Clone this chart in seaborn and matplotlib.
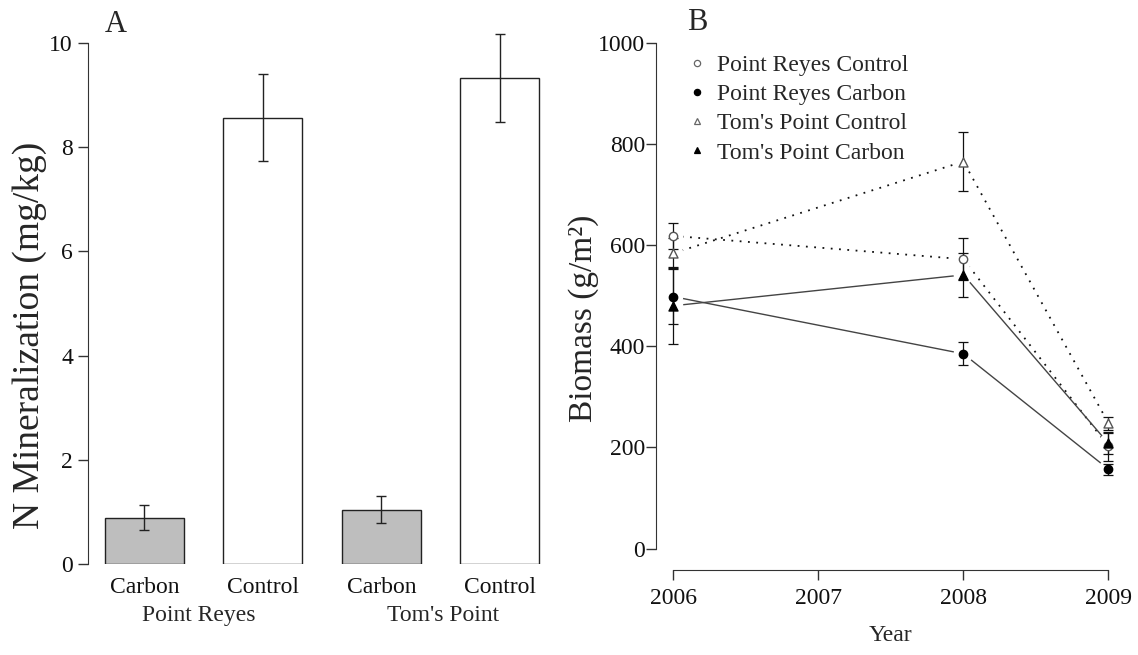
import matplotlib
matplotlib.use("Agg")
import matplotlib.pyplot as plt
from matplotlib.lines import Line2D
from matplotlib.transforms import blended_transform_factory
import pandas as pd
import seaborn as sns

# Panel A: net N mineralization by site and treatment
sites = ["Point Reyes", "Point Reyes", "Tom's Point", "Tom's Point"]
treatments = ["Carbon", "Control", "Carbon", "Control"]
n_min = [0.89, 8.56, 1.05, 9.32]
n_min_se = [0.24, 0.83, 0.25, 0.85]

# Panel B: aboveground biomass through time
years = [2006, 2008, 2009]
pr_control = [618, 572, 202]
pr_control_se = [26, 41, 28]
pr_carbon = [498, 385, 157]
pr_carbon_se = [55, 23, 11]
tp_control = [584, 765, 248]
tp_control_se = [29, 58, 13]
tp_carbon = [480, 541, 208]
tp_carbon_se = [76, 43, 21]

sns.set_style("ticks")
plt.rcParams["font.family"] = ["Liberation Serif", "DejaVu Serif"]
plt.rcParams["axes.edgecolor"] = "#333333"
plt.rcParams["xtick.color"] = "#333333"
plt.rcParams["ytick.color"] = "#333333"
plt.rcParams["xtick.labelcolor"] = "#111111"
plt.rcParams["ytick.labelcolor"] = "#111111"

TICK_FS = 17
fig = plt.figure(figsize=(11.38, 6.55), dpi=100)

# ---------------- Panel A ----------------
axA = fig.add_axes([0.0770, 0.1385, 0.4122, 0.8282])
bars = pd.DataFrame({
    "bar": [f"{s} {t}" for s, t in zip(sites, treatments)],
    "treatment": treatments,
    "value": n_min,
    "se": n_min_se,
})
fill = {"Carbon": "#bebebe", "Control": "#ffffff"}
palette = {b: fill[t] for b, t in zip(bars["bar"], bars["treatment"])}
sns.barplot(data=bars, x="bar", y="value", hue="bar", palette=palette,
            width=0.667, edgecolor="#222222", linewidth=1.0, errorbar=None,
            legend=False, ax=axA, saturation=1)
axA.errorbar(range(len(n_min)), n_min, yerr=n_min_se, fmt="none",
             ecolor="#222222", elinewidth=1.0, capsize=3.5, capthick=1.0)
axA.set_xlim(-0.48, 3.48)
axA.set_ylim(0, 10.4)
axA.set_yticks([0, 2, 4, 6, 8, 10])
axA.set_xticks(range(len(treatments)))
axA.set_xticklabels(treatments)
axA.tick_params(axis="x", length=0, pad=9, labelsize=TICK_FS)
axA.tick_params(axis="y", length=7, width=1, pad=3.5, labelsize=TICK_FS)
for side in ("top", "right", "bottom"):
    axA.spines[side].set_visible(False)
axA.spines["left"].set_bounds(0, 10)
axA.set_xlabel("")
axA.set_ylabel("N Mineralization (mg/kg)", fontsize=27)
axA.yaxis.set_label_coords(-0.1228, 0.4227)
axA.yaxis.label.set_va("center")

trans = blended_transform_factory(axA.transData, axA.transAxes)
for site, xc in (("Point Reyes", 0.46), ("Tom's Point", 2.52)):
    axA.text(xc, -0.0935, site, transform=trans, ha="center", va="center",
             fontsize=TICK_FS)

# ---------------- Panel B ----------------
axB = fig.add_axes([0.5765, 0.1292, 0.4128, 0.8366])
series = [
    ("Point Reyes Control", pr_control, pr_control_se, "o", True, False),
    ("Point Reyes Carbon", pr_carbon, pr_carbon_se, "o", False, True),
    ("Tom's Point Control", tp_control, tp_control_se, "^", True, False),
    ("Tom's Point Carbon", tp_carbon, tp_carbon_se, "^", False, True),
]

dotted = (0, (1, 3.6))
for name, vals, se, mk, is_open, solid in series:
    if solid:
        sns.lineplot(x=years, y=vals, ax=axB, color="#444444", lw=1.0,
                     zorder=1, estimator=None, sort=False)
    else:
        sns.lineplot(x=years, y=vals, ax=axB, color="#111111", lw=1.3,
                     linestyle=dotted, zorder=1, estimator=None, sort=False)

# white clearance around each point, so line ends stop short of markers
all_x = [y for _, vals, _, _, _, _ in series for y in years]
all_y = [v for _, vals, _, _, _, _ in series for v in vals]
sns.scatterplot(x=all_x, y=all_y, s=200, color="white", edgecolor="none",
                linewidth=0, zorder=2, ax=axB, legend=False)

for name, vals, se, mk, is_open, solid in series:
    axB.errorbar(years, vals, yerr=se, fmt="none", ecolor="#111111",
                 elinewidth=0.9, capsize=3.5, capthick=0.9, zorder=3)

for name, vals, se, mk, is_open, solid in series:
    size = 42 if mk == "^" else 36
    if is_open:
        sns.scatterplot(x=years, y=vals, marker=mk, s=size, color="white",
                        edgecolor="#555555", linewidth=1.0, zorder=4,
                        ax=axB, legend=False)
    else:
        sns.scatterplot(x=years, y=vals, marker=mk, s=size, color="black",
                        edgecolor="black", linewidth=1.0, zorder=4,
                        ax=axB, legend=False)

axB.set_xlim(2005.88, 2009.12)
axB.set_ylim(-43, 1040)
axB.set_xticks([2006, 2007, 2008, 2009])
axB.set_xticklabels(["2006", "2007", "2008", "2009"])
axB.set_yticks([0, 200, 400, 600, 800, 1000])
axB.tick_params(axis="x", length=7, width=1, pad=5.5, labelsize=TICK_FS)
axB.tick_params(axis="y", length=7, width=1, pad=1, labelsize=TICK_FS)
for side in ("top", "right"):
    axB.spines[side].set_visible(False)
axB.spines["left"].set_bounds(0, 1000)
axB.spines["bottom"].set_bounds(2006, 2009)
axB.set_xlabel("Year", fontsize=TICK_FS)
axB.xaxis.set_label_coords(0.5, -0.118)
axB.xaxis.label.set_va("center")
axB.set_ylabel("Biomass (g/m²)", fontsize=24)
axB.yaxis.set_label_coords(-0.1535, 0.4606)
axB.yaxis.label.set_va("center")

handles = []
for name, vals, se, mk, is_open, solid in series:
    handles.append(Line2D([], [], linestyle="none", marker=mk,
                          markersize=4.5 if mk == "o" else 5,
                          markerfacecolor="white" if is_open else "black",
                          markeredgecolor="#666666" if is_open else "black",
                          markeredgewidth=0.9, label=name))
axB.legend(handles=handles, loc="upper left", bbox_to_anchor=(0.0664, 0.941),
           frameon=False, fontsize=TICK_FS, handlelength=0.8,
           handletextpad=0.45, labelspacing=0.32, borderpad=0,
           borderaxespad=0)

fig.text(105 / 1138, 0.9507, "A", fontsize=22, va="baseline", ha="left")
fig.text(687 / 1138, 0.9542, "B", fontsize=22, va="baseline", ha="left")

fig.savefig("out.png", dpi=100)
